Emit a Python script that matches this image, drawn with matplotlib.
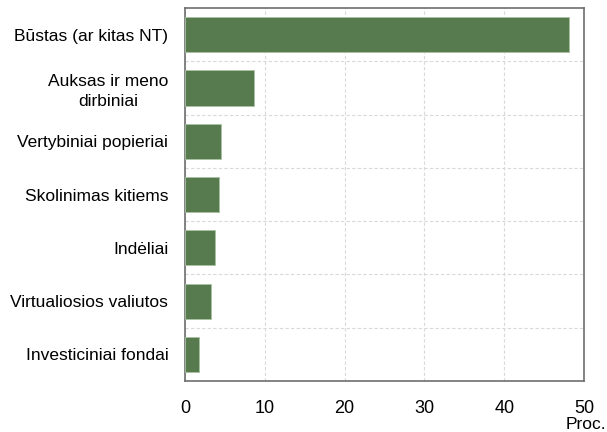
import numpy as np
import matplotlib.pyplot as plt

plt.rcParams['font.family'] = ['Liberation Sans', 'DejaVu Sans']

categories = ["Būstas (ar kitas NT)", "Auksas ir meno\ndirbiniai", "Vertybiniai popieriai",
              "Skolinimas kitiems", "Indėliai", "Virtualiosios valiutos", "Investiciniai fondai"]
values = [48.1, 8.7, 4.5, 4.3, 3.7, 3.3, 1.8]
xticks = [0, 10, 20, 30, 40, 50]

fig = plt.figure(figsize=(6.07, 4.32), dpi=100)
ax = fig.add_axes([0.3048, 0.118, 0.6573, 0.8635])

y = np.arange(len(categories))
ax.barh(y, values, height=0.66, color='#577b4f', edgecolor='#a9c3a3', linewidth=0.6, zorder=3)
ax.set_ylim(len(categories) - 0.5, -0.5)
ax.set_xlim(0, 50)
ax.set_yticks(y)
ax.set_yticklabels(categories, fontsize=12.5, ha='right', multialignment='center', linespacing=1.35)
ax.set_xticks(xticks)
ax.set_xticklabels([str(t) for t in xticks], fontsize=13)
ax.set_yticks(np.arange(0.5, len(categories) - 1, 1), minor=True)
ax.tick_params(axis='both', which='both', length=0)
ax.tick_params(axis='x', pad=14)
ax.tick_params(axis='y', pad=12)
ax.grid(axis='x', which='major', color='#d9d9d9', linestyle=(0, (3, 2)), linewidth=0.8, zorder=0)
ax.grid(axis='y', which='minor', color='#d9d9d9', linestyle=(0, (3, 2)), linewidth=0.8, zorder=0)
for s in ax.spines.values():
    s.set_color('#6e6e6e')
    s.set_linewidth(1.2)

fig.text(0.9985, 0.0, "Proc.", ha='right', va='bottom', fontsize=12.5)

fig.savefig('out.png', dpi=100)
